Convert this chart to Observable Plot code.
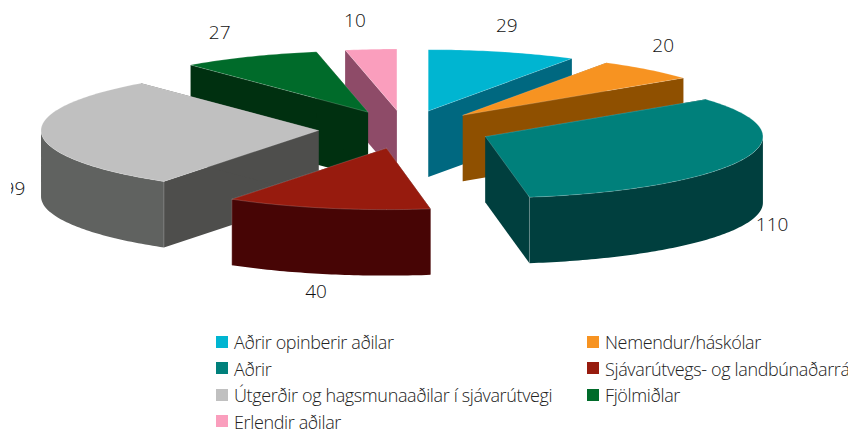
<!DOCTYPE html>
<html>
<head>
<meta charset="utf-8">
<script src="https://cdn.jsdelivr.net/npm/d3@7"></script>
<script src="https://cdn.jsdelivr.net/npm/@observablehq/plot@0.6"></script>
<style>
  html, body { margin: 0; padding: 0; background: #fff; }
  #page { position: relative; width: 848px; height: 430px; overflow: hidden; background: #fff; }
  #chart { position: absolute; left: 11px; top: 0; width: 840px; }
  #chart svg { display: block; overflow: hidden; }
  .lg { position: absolute; font: 300 18px/20px "Open Sans", sans-serif; letter-spacing: -0.37px; color: #222; white-space: nowrap; }
  .sw { position: absolute; width: 12px; height: 12px; }
</style>
</head>
<body>
<div id="page"><div id="chart"></div></div>
<script>
const categories = ["Aðrir opinberir aðilar", "Nemendur/háskólar", "Aðrir", "Sjávarútvegs- og landbúnaðarráðuneyti", "Útgerðir og hagsmunaaðilar í sjávarútvegi", "Fjölmiðlar", "Erlendir aðilar"];
const values = [29, 20, 110, 40, 99, 27, 10];
const topColors = ["#00b5d1", "#f79321", "#00807b", "#971b0e", "#c0c0c0", "#006b2a", "#fa9ebd"];
const outerWallColors = ["#006880", "#8f5000", "#003f3e", "#470505", "#606260", "#003010", "#8e4b68"];
const cutWallColors = ["#006880", "#8f5000", "#003f3e", "#470505", "#4e4e4c", "#003010", "#8e4b68"];

// Pie geometry in unit-circle space; the x and y scales flatten it to an ellipse.
const EXPLODE = 0.312, DEPTH = 1.075;
const arcs = d3.pie().sort(null).value(d => d)(values);
const pt = (a, r, cx, cy, dz = 0) => ({x: cx + r * Math.sin(a), y: cy - r * Math.cos(a) + dz});
function arcPts(a0, a1, cx, cy, dz) {
  const n = Math.max(2, Math.ceil((a1 - a0) * 60));
  return d3.range(n + 1).map(i => pt(a0 + (a1 - a0) * i / n, 1, cx, cy, dz));
}

const slices = arcs.map((d, i) => {
  const mid = (d.startAngle + d.endAngle) / 2;
  return {i, a0: d.startAngle, a1: d.endAngle, mid, cx: EXPLODE * Math.sin(mid), cy: -EXPLODE * Math.cos(mid)};
});
const backToFront = slices.slice().sort((p, q) => Math.cos(q.mid) - Math.cos(p.mid));

const face = (pts, fill) => Plot.line(pts, {x: "x", y: "y", fill, stroke: "none", curve: "linear"});
const edge = (pts) => Plot.line(pts, {x: "x", y: "y", stroke: "#fff", strokeOpacity: 0.3, strokeWidth: 0.6, curve: "linear"});

const marks = [];
for (const s of backToFront) {
  const {i, a0, a1, cx, cy} = s;
  const apex = {x: cx, y: cy}, apexB = {x: cx, y: cy + DEPTH};
  const p0 = pt(a0, 1, cx, cy), p1 = pt(a1, 1, cx, cy);
  const p0B = pt(a0, 1, cx, cy, DEPTH), p1B = pt(a1, 1, cx, cy, DEPTH);
  marks.push(face([apex, p0, p0B, apexB], cutWallColors[i]));
  marks.push(face([apex, p1, p1B, apexB], cutWallColors[i]));
  const f0 = Math.max(a0, Math.PI / 2), f1 = Math.min(a1, 3 * Math.PI / 2);
  if (f1 > f0) {
    const front = arcPts(f0, f1, cx, cy, 0);
    const frontB = arcPts(f0, f1, cx, cy, DEPTH).reverse();
    marks.push(face([...front, ...frontB], outerWallColors[i]));
  }
  const top = [apex, ...arcPts(a0, a1, cx, cy, 0)];
  marks.push(face(top, topColors[i]));
  marks.push(edge([...top, apex]));
  if (a0 > Math.PI / 2 && a0 < 3 * Math.PI / 2) marks.push(edge([p0, p0B]));
  if (a1 > Math.PI / 2 && a1 < 3 * Math.PI / 2) marks.push(edge([p1, p1B]));
}

// Value labels sit just outside each slice's outer edge, nudged in pixels.
const labelNudge = [[4, -26], [15, -24], [29, 66], [-11, 84], [-27, 55], [-30, -24], [-16, -28]];
slices.forEach(s => {
  const [dx, dy] = labelNudge[s.i];
  marks.push(Plot.text([pt(s.mid, 1, s.cx, s.cy)], {
    x: "x", y: "y", text: () => String(values[s.i]), dx, dy,
    fontSize: 19, fontFamily: "Open Sans", fontWeight: 300, fill: "#111", textAnchor: "middle", lineAnchor: "middle"
  }));
});

const chart = Plot.plot({
  width: 840, height: 320, margin: 0,
  x: {domain: [-1, 1], range: [404.5 - 277.5 - 11, 404.5 + 277.5 - 11], axis: null},
  y: {domain: [-1, 1], range: [67.6, 190.4], axis: null},
  style: {background: "transparent", overflow: "hidden"},
  marks
});
document.getElementById("chart").appendChild(chart);

// Legend below the chart: two columns, row by row
const page = document.getElementById("page");
categories.forEach((c, i) => {
  const col = i % 2, row = Math.floor(i / 2);
  const x = col ? 587 : 216, y = 342 + row * 26.6;
  const sw = document.createElement("div");
  sw.className = "sw";
  sw.style.cssText = `left:${x}px;top:${y - 6.5}px;background:${topColors[i]}`;
  page.appendChild(sw);
  const t = document.createElement("div");
  t.className = "lg";
  t.textContent = c;
  t.style.cssText = `left:${x + 18}px;top:${y - 10}px`;
  page.appendChild(t);
});
</script>
</body>
</html>
